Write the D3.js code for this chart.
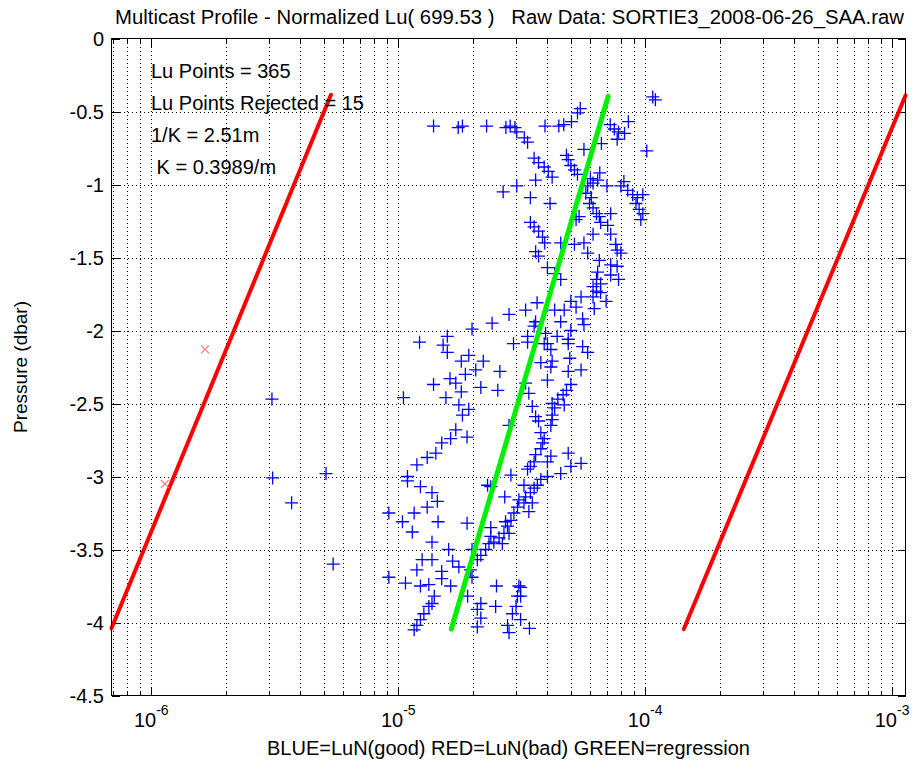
<!DOCTYPE html>
<html>
<head>
<meta charset="utf-8">
<script src="https://cdn.jsdelivr.net/npm/d3@7"></script>
<style>
  body { margin: 0; background: #fff; }
  text { font-family: "Liberation Sans", Arial, sans-serif; fill: #000; }
</style>
</head>
<body>
<div class="chart"></div>
<script>
// LuN (good) points
var luGood = [
  1.39e-5, 1.75e-5, 1.82e-5, 2.28e-5, 2.73e-5, 2.84e-5, 2.97e-5, 3.02e-5, 2.66e-5, 3.02e-5,
  1.073e-4, 1.10e-4, 5.46e-5, 5.32e-5, 5.03e-5, 4.68e-5, 4.47e-5, 3.93e-5, 8.55e-5, 7.22e-5,
  7.5e-5, 7.8e-5, 8.25e-5, 7.7e-5, 6.65e-5, 3.24e-5, 3.34e-5, 1.015e-4, 5.65e-5, 4.8e-5,
  4.88e-5, 5.0e-5, 5.17e-5, 5.32e-5, 3.55e-5, 3.7e-5, 3.9e-5, 4.05e-5, 4.2e-5, 3.6e-5,
  3.43e-5, 4.12e-5, 6.0e-5, 6.15e-5, 5.85e-5, 6.55e-5, 6.42e-5, 8.2e-5, 7.97e-5, 8.5e-5,
  8.9e-5, 9.3e-5, 9.78e-5, 9.18e-5, 9.45e-5, 9.78e-5, 9.6e-5, 7.0e-5, 5.75e-5, 6.05e-5,
  5.95e-5, 6.15e-5, 6.35e-5, 6.52e-5, 7.25e-5, 6.6e-5, 7.05e-5, 5.25e-5, 5.4e-5, 3.43e-5,
  3.55e-5, 3.7e-5, 3.84e-5, 3.92e-5, 4.55e-5, 5.17e-5, 5.65e-5, 6.15e-5, 7.25e-5, 7.6e-5,
  7.7e-5, 7.97e-5, 3.6e-5, 3.7e-5, 5.85e-5, 6.52e-5, 4.02e-5, 4.3e-5, 4.55e-5, 7.25e-5,
  7.7e-5, 6.42e-5, 6.35e-5, 6.6e-5, 7.25e-5, 7.8e-5, 6.15e-5, 6.35e-5, 6.6e-5, 6.15e-5,
  6.95e-5, 6.22e-5, 5.5e-5, 5.0e-5, 5.25e-5, 4.7e-5, 5.58e-5, 5.65e-5, 3.65e-5, 3.28e-5,
  4.3e-5, 4.55e-5, 3.6e-5, 3.55e-5, 3.95e-5, 4.4e-5, 5.0e-5, 4.88e-5, 5.58e-5, 3.34e-5,
  4.02e-5, 2.81e-5, 2.4e-5, 1.99e-5, 1.58e-5, 1.22e-5, 1.52e-5, 2.93e-5, 1.58e-5, 1.8e-5,
  1.93e-5, 2.21e-5, 2.06e-5, 1.87e-5, 1.62e-5, 1.71e-5, 1.39e-5, 1.8e-5, 1.56e-5, 2.16e-5,
  2.53e-5, 2.58e-5, 1.05e-5, 1.76e-5, 1.93e-5, 1.82e-5, 1.71e-5, 1.9e-5, 1.63e-5, 1.5e-5,
  1.42e-5, 1.31e-5, 1.19e-5, 1.09e-5, 1.09e-5, 1.23e-5, 1.37e-5, 1.44e-5, 1.31e-5, 1.16e-5,
  9.16e-6, 1.04e-5, 1.14e-5, 1.45e-5, 1.9e-5, 1.37e-5, 1.6e-5, 1.37e-5, 1.25e-5, 1.19e-5,
  1.66e-5, 1.76e-5, 1.5e-5, 1.5e-5, 1.07e-5, 9.16e-6, 1.23e-5, 1.33e-5, 1.63e-5, 1.4e-5,
  1.37e-5, 1.33e-5, 1.27e-5, 1.23e-5, 1.19e-5, 1.16e-5, 1.91e-5, 2.16e-5, 2.09e-5, 2.16e-5,
  2.09e-5, 2.48e-5, 2.5e-5, 2.77e-5, 2.81e-5, 2.9e-5, 3.0e-5, 3.04e-5, 3.08e-5, 2.3e-5,
  2.37e-5, 2.7e-5, 2.86e-5, 2.81e-5, 2.37e-5, 2.37e-5, 2.33e-5, 2.26e-5, 2.16e-5, 2.09e-5,
  1.99e-5, 2.44e-5, 2.56e-5, 2.68e-5, 2.77e-5, 2.86e-5, 2.94e-5, 3.04e-5, 3.08e-5, 2.72e-5,
  2.81e-5, 2.64e-5, 1.96e-5, 1.99e-5, 3.34e-5, 3.9e-5, 4.15e-5, 4.88e-5, 5.85e-5, 4.95e-5,
  4.2e-5, 3.78e-5, 4.15e-5, 4.88e-5, 5.5e-5, 4.02e-5, 5.0e-5, 4.8e-5, 4.65e-5, 4.43e-5,
  4.2e-5, 4.3e-5, 4.7e-5, 3.28e-5, 3.38e-5, 3.49e-5, 3.6e-5, 3.7e-5, 4.2e-5, 4.2e-5,
  4.15e-5, 3.78e-5, 3.9e-5, 3.84e-5, 3.78e-5, 3.6e-5, 4.15e-5, 3.55e-5, 3.43e-5, 3.34e-5,
  4.02e-5, 4.88e-5, 5.5e-5, 5.0e-5, 4.55e-5, 4.02e-5, 3.78e-5, 3.66e-5, 3.55e-5, 3.43e-5,
  3.23e-5, 3.28e-5, 3.49e-5, 3.23e-5, 3.38e-5, 3.13e-5, 3.13e-5, 3.13e-5, 3.4e-5, 3.08e-6,
  3.1e-6, 3.7e-6, 5.1e-6, 5.45e-6
];
var presGood = [
  -0.60, -0.61, -0.60, -0.60, -0.61, -0.60, -0.61, -0.64, -1.05, -1.01,
  -0.40, -0.42, -0.48, -0.51, -0.57, -0.59, -0.60, -0.60, -0.57, -0.59,
  -0.62, -0.64, -0.65, -0.69, -0.72, -0.68, -0.71, -0.77, -0.76, -0.80,
  -0.83, -0.87, -0.90, -0.93, -0.82, -0.85, -0.88, -0.91, -0.95, -0.97,
  -1.09, -1.13, -0.96, -0.99, -1.01, -0.92, -0.97, -0.98, -1.01, -1.04,
  -1.07, -1.09, -1.07, -1.13, -1.17, -1.20, -1.24, -1.01, -1.06, -1.09,
  -1.13, -1.16, -1.20, -1.22, -1.20, -1.26, -1.28, -1.24, -1.22, -1.26,
  -1.29, -1.32, -1.36, -1.40, -1.40, -1.41, -1.40, -1.34, -1.34, -1.41,
  -1.45, -1.47, -1.46, -1.49, -1.47, -1.52, -1.57, -1.61, -1.65, -1.55,
  -1.56, -1.60, -1.65, -1.68, -1.62, -1.65, -1.70, -1.73, -1.74, -1.77,
  -1.80, -1.85, -1.77, -1.80, -1.84, -1.86, -1.92, -1.96, -1.81, -1.86,
  -1.86, -1.94, -1.94, -1.97, -2.02, -2.04, -2.00, -2.06, -2.11, -2.04,
  -2.09, -1.89, -1.95, -1.99, -2.04, -2.08, -2.10, -2.09, -2.15, -2.21,
  -2.17, -2.21, -2.27, -2.30, -2.33, -2.36, -2.37, -2.42, -2.46, -2.39,
  -2.41, -2.28, -2.46, -2.51, -2.54, -2.58, -2.68, -2.73, -2.74, -2.77,
  -2.84, -2.87, -2.92, -3.00, -3.03, -3.07, -3.11, -3.17, -3.21, -3.25,
  -3.25, -3.31, -3.38, -3.31, -3.32, -3.45, -3.50, -3.57, -3.57, -3.64,
  -3.58, -3.62, -3.65, -3.70, -3.73, -3.69, -3.75, -3.74, -3.75, -3.82,
  -3.87, -3.89, -3.94, -3.98, -4.02, -4.05, -3.82, -3.87, -3.91, -3.97,
  -4.03, -3.89, -3.75, -4.02, -4.07, -3.94, -3.89, -3.82, -3.75, -3.06,
  -3.07, -3.14, -2.99, -2.65, -3.35, -3.41, -3.46, -3.50, -3.54, -3.57,
  -3.50, -3.45, -3.42, -3.39, -3.34, -3.30, -3.25, -3.21, -3.16, -3.31,
  -3.39, -3.46, -3.64, -3.69, -2.08, -2.09, -2.13, -2.09, -2.15, -2.19,
  -2.21, -2.22, -2.25, -2.28, -2.27, -2.34, -2.37, -2.41, -2.44, -2.47,
  -2.50, -2.53, -2.51, -2.36, -2.43, -2.52, -2.59, -2.62, -2.58, -2.61,
  -2.65, -2.70, -2.74, -2.77, -2.81, -2.85, -2.86, -2.90, -2.93, -2.95,
  -2.90, -2.84, -2.91, -2.93, -2.98, -3.00, -3.02, -3.06, -3.08, -3.11,
  -3.06, -3.14, -3.18, -3.18, -3.24, -3.76, -3.82, -3.98, -4.04, -2.47,
  -3.01, -3.18, -2.98, -3.60
];

// rejected points (red x)
var luBad = [1.65e-6, 1.135e-6];
var presBad = [-2.13, -3.05];

// line end points (LuN, pressure)
var regLu = [1.64e-5, 7.08e-5];
var regPres = [-4.045, -0.397];
var redLowLu = [6.9e-7, 5.34e-6];
var redLowPres = [-4.04, -0.386];
var redHighLu = [1.434e-4, 1.133e-3];
var redHighPres = [-4.045, -0.39];

var yTicks = [0, -0.5, -1, -1.5, -2, -2.5, -3, -3.5, -4, -4.5];
var xDecades = [-6, -5, -4, -3];

var titleText = "Multicast Profile - Normalized Lu( 699.53 )   Raw Data: SORTIE3_2008-06-26_SAA.raw";
var infoLines = ["Lu Points = 365", "Lu Points Rejected = 15", "1/K = 2.51m", " K = 0.3989/m"];

function loadChart(){
  drawProfile();
}

function drawProfile(){
  var W = 913, H = 763;
  var left = 111.5, right = 905.5, top = 38.5, bottom = 695.5;

  var svg = d3.select(".chart").append("svg")
              .attr("width", W)
              .attr("height", H);

  var x = d3.scaleLog().domain([redLowLu[0], redHighLu[1]]).range([left, right]);
  var y = d3.scaleLinear().domain([-4.5, 0]).range([bottom, top]);

  // minor + major positions on the log axis
  var xAll = [];
  for (var k = -7; k <= -3; k++) {
    for (var m = 1; m <= 9; m++) {
      var v = m * Math.pow(10, k);
      if (v >= x.domain()[0] && v <= x.domain()[1]) xAll.push({v: v, major: m === 1});
    }
  }
  var px = function(v){ return Math.round(x(v)) + 0.5; };
  var py = function(v){ return Math.round(y(v)) + 0.5; };

  // grid
  var grid = svg.append("g")
                .attr("stroke", "#000")
                .attr("stroke-width", 1)
                .attr("stroke-dasharray", "1,3")
                .attr("shape-rendering", "crispEdges");
  grid.selectAll(".gx").data(xAll).enter().append("line")
      .attr("x1", function(d){ return px(d.v); })
      .attr("x2", function(d){ return px(d.v); })
      .attr("y1", top).attr("y2", bottom);
  grid.selectAll(".gy").data(yTicks.slice(1, -1)).enter().append("line")
      .attr("x1", left).attr("x2", right)
      .attr("y1", function(d){ return py(d); })
      .attr("y2", function(d){ return py(d); });

  // ticks (inside, on all four sides)
  var ticks = svg.append("g").attr("stroke", "#000").attr("shape-rendering", "crispEdges");
  xAll.forEach(function(d){
    var len = d.major ? 9 : 5;
    ticks.append("line").attr("x1", px(d.v)).attr("x2", px(d.v)).attr("y1", bottom).attr("y2", bottom - len);
    ticks.append("line").attr("x1", px(d.v)).attr("x2", px(d.v)).attr("y1", top).attr("y2", top + len);
  });
  yTicks.forEach(function(d){
    ticks.append("line").attr("x1", left).attr("x2", left + 8).attr("y1", py(d)).attr("y2", py(d));
    ticks.append("line").attr("x1", right).attr("x2", right - 8).attr("y1", py(d)).attr("y2", py(d));
  });

  // data
  var plot = svg.append("g");
  var good = d3.range(luGood.length).map(function(i){ return [luGood[i], presGood[i]]; });
  plot.selectAll(".good").data(good).enter().append("path")
      .attr("transform", function(d){ return "translate(" + x(d[0]) + "," + y(d[1]) + ")"; })
      .attr("d", "M-6.5,0H6.5M0,-6.5V6.5")
      .attr("stroke", "#0000ff")
      .attr("stroke-width", 1.3)
      .attr("fill", "none");

  var line = d3.line().x(function(d){ return x(d[0]); }).y(function(d){ return y(d[1]); });
  var lines = [
    { lu: redLowLu, p: redLowPres },
    { lu: redHighLu, p: redHighPres }
  ];
  lines.forEach(function(l){
    plot.append("path")
        .attr("d", line([[l.lu[0], l.p[0]], [l.lu[1], l.p[1]]]))
        .attr("stroke", "#ff0000")
        .attr("stroke-width", 4)
        .attr("stroke-linecap", "round")
        .attr("fill", "none");
  });

  var bad = d3.range(luBad.length).map(function(i){ return [luBad[i], presBad[i]]; });
  plot.selectAll(".bad").data(bad).enter().append("path")
      .attr("transform", function(d){ return "translate(" + x(d[0]) + "," + y(d[1]) + ")"; })
      .attr("d", "M-4,-4L4,4M-4,4L4,-4")
      .attr("stroke", "#ff7070")
      .attr("stroke-width", 1.1)
      .attr("fill", "none");

  plot.append("path")
      .attr("d", line([[regLu[0], regPres[0]], [regLu[1], regPres[1]]]))
      .attr("stroke", "#00f000")
      .attr("stroke-width", 5)
      .attr("stroke-linecap", "round")
      .attr("fill", "none");

  // box
  svg.append("rect")
     .attr("x", left).attr("y", top)
     .attr("width", right - left).attr("height", bottom - top)
     .attr("fill", "none").attr("stroke", "#000")
     .attr("shape-rendering", "crispEdges");

  // y tick labels
  svg.selectAll(".yl").data(yTicks).enter().append("text")
     .attr("x", 104)
     .attr("y", function(d){ return y(d); })
     .attr("dy", "0.36em")
     .attr("text-anchor", "end")
     .style("font-size", "20px")
     .text(function(d){ return d; });

  // x tick labels 10^k
  xDecades.forEach(function(k){
    var t = svg.append("text")
               .attr("x", x(Math.pow(10, k)))
               .attr("y", 727)
               .attr("text-anchor", "middle")
               .style("font-size", "20px");
    t.append("tspan").text("10");
    t.append("tspan").attr("dy", -12).style("font-size", "14px").text(k);
  });

  // title and axis labels
  svg.append("text")
     .attr("x", 115).attr("y", 24)
     .attr("textLength", 789)
     .attr("lengthAdjust", "spacingAndGlyphs")
     .style("font-size", "20px")
     .style("white-space", "pre")
     .text(titleText);

  svg.append("text")
     .attr("x", (left + right) / 2).attr("y", 755)
     .attr("text-anchor", "middle")
     .style("font-size", "20px")
     .text("BLUE=LuN(good) RED=LuN(bad) GREEN=regression");

  svg.append("text")
     .attr("transform", "translate(27," + ((top + bottom) / 2) + ") rotate(-90)")
     .attr("text-anchor", "middle")
     .style("font-size", "19px")
     .text("Pressure (dbar)");

  // annotation block
  svg.selectAll(".info").data(infoLines).enter().append("text")
     .attr("x", 151)
     .attr("y", function(d, i){ return 77.5 + i * 32.2; })
     .style("font-size", "20px")
     .style("white-space", "pre")
     .text(function(d){ return d; });
}

loadChart();
</script>
</body>
</html>
